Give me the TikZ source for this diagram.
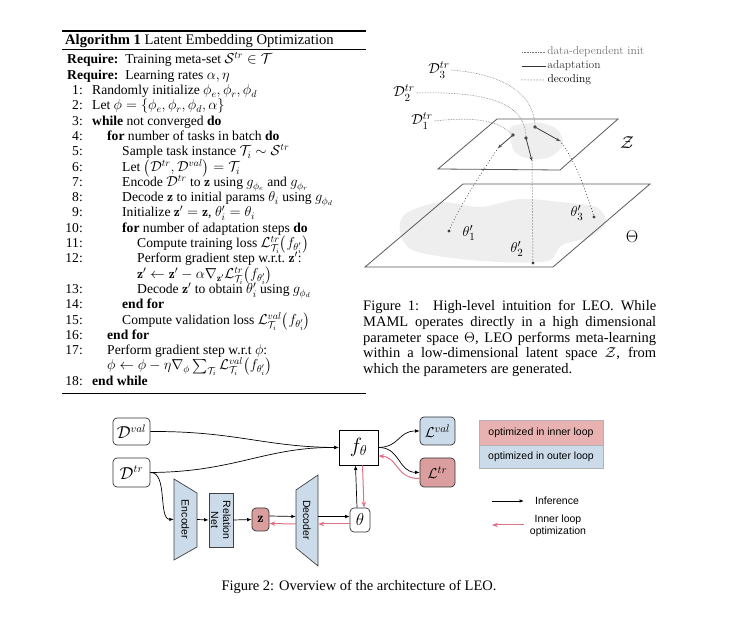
\documentclass[tikz,border=0pt]{standalone}
\usepackage{amsmath}
\usepackage{fontspec}
\usepackage{tikz}
\usetikzlibrary{arrows.meta, calc, positioning, shadows}
\newfontfamily\timesf{Liberation Serif}
\newfontfamily\arialf{Liberation Sans}
\definecolor{bluefill}{RGB}{204,219,234}
\definecolor{redfill}{RGB}{218,158,158}
\definecolor{legred}{RGB}{232,178,178}
\definecolor{redarr}{RGB}{224,112,132}
\definecolor{blob}{gray}{0.935}

\begin{document}
\begin{tikzpicture}[x=1pt, y=-1pt,
  algo/.style={font={\timesf\fontsize{13.6}{15.5}\selectfont}, inner sep=0pt, anchor=base west},
  num/.style={font={\timesf\fontsize{13.6}{15.5}\selectfont}, inner sep=0pt, anchor=base east},
  captext/.style={font={\timesf\fontsize{14.5}{15.8}\selectfont}, inner sep=0pt},
  lab/.style={font=\fontsize{15}{15}\selectfont, inner sep=1pt},
  plane/.style={draw=black!65, line width=0.8},
  init/.style={black!55, densely dotted, line width=0.6},
  adapt/.style={black!75, line width=0.8, -{Stealth[length=4pt, width=3pt]}},
  decod/.style={black!80, line width=1, line cap=round, dash pattern=on 0pt off 3pt},
  rbox/.style={draw=black!80, rounded corners=4, line width=0.7, inner sep=1pt},
  sans/.style={font={\arialf\fontsize{10.5}{12}\selectfont}, inner sep=1pt},
  inf/.style={black, line width=0.7, -{Latex[length=4.5pt, width=3.5pt]}},
  innerloop/.style={redarr, line width=1, -{Stealth[length=6pt, width=4.5pt]}},
]
\useasboundingbox (0,0) rectangle (740,628);

% algorithm
\draw[line width=1.5] (62,31) -- (366,31);
\draw[line width=0.8] (62,49.5) -- (366,49.5);
\draw[line width=0.8] (62,393) -- (366,393);
\node[algo, font={\timesf\fontsize{14.6}{15.5}\selectfont}] (title) at (65,44.5) {\textbf{Algorithm 1} Latent Embedding Optimization};
\node[algo] (req1) at (67,64) {\textbf{Require:}\hspace{7pt}Training meta-set $\mathcal{S}^{tr}\in\mathcal{T}$};
\node[algo] (req2) at (67,80) {\textbf{Require:}\hspace{7pt}Learning rates $\alpha,\eta$};
\foreach \n/\y/\lev/\txt [count=\k] in {
  1:/95/0/{Randomly initialize $\phi_e,\phi_r,\phi_d$},
  2:/110/0/{Let $\phi=\{\phi_e,\phi_r,\phi_d,\alpha\}$},
  3:/126/0/{\textbf{while} not converged \textbf{do}},
  4:/141/1/{\textbf{for} number of tasks in batch \textbf{do}},
  5:/156/2/{Sample task instance $\mathcal{T}_i\sim\mathcal{S}^{tr}$},
  6:/172/2/{Let $\left(\mathcal{D}^{tr},\mathcal{D}^{val}\right)=\mathcal{T}_i$},
  7:/187/2/{Encode $\mathcal{D}^{tr}$ to $\mathbf{z}$ using $g_{\phi_e}$ and $g_{\phi_r}$},
  8:/202/2/{Decode $\mathbf{z}$ to initial params $\theta_i$ using $g_{\phi_d}$},
  9:/217/2/{Initialize $\mathbf{z}'=\mathbf{z}$, $\theta_i'=\theta_i$},
  10:/233/2/{\textbf{for} number of adaptation steps \textbf{do}},
  11:/248/3/{Compute training loss $\mathcal{L}^{tr}_{\mathcal{T}_i}\big(f_{\theta_i'}\big)$},
  12:/263/3/{Perform gradient step w.r.t.\ $\mathbf{z}'$:},
  /279/3/{$\mathbf{z}'\leftarrow\mathbf{z}'-\alpha\nabla_{\mathbf{z}'}\mathcal{L}^{tr}_{\mathcal{T}_i}\big(f_{\theta_i'}\big)$},
  13:/294/3/{Decode $\mathbf{z}'$ to obtain $\theta_i'$ using $g_{\phi_d}$},
  14:/309/2/{\textbf{end for}},
  15:/325/2/{Compute validation loss $\mathcal{L}^{val}_{\mathcal{T}_i}\big(f_{\theta_i'}\big)$},
  16:/340/1/{\textbf{end for}},
  17:/355/1/{Perform gradient step w.r.t $\phi$:},
  /370/1/{$\phi\leftarrow\phi-\eta\nabla_\phi\sum_{\mathcal{T}_i}\mathcal{L}^{val}_{\mathcal{T}_i}\big(f_{\theta_i'}\big)$},
  18:/386/0/{\textbf{end while}}}
{
  \node[num] (n\k) at (83,\y) {\n};
  \node[algo] (t\k) at (92+15*\lev,\y) {\txt};
}

% figure 1: latent space and parameter space
\fill[blob] plot[smooth cycle] coordinates {(405,214) (440,202) (480,207) (520,199) (560,202) (596,207) (606,222) (590,237) (562,245) (548,261) (500,262) (452,258) (412,250) (400,232)};
\draw[plane] (463,184) -- (650,184) -- (553,267) -- (365,267) -- cycle;
\fill[blob] plot[smooth cycle] coordinates {(510,128) (524,124) (542,123) (558,130) (563,145) (550,157) (530,159) (514,151)};
\draw[plane] (497,119) -- (618,119) -- (560,170) -- (438,169) -- cycle;
\node[font=\fontsize{18}{18}\selectfont] (zlab) at (627,143) {$\mathcal{Z}$};
\node[font=\fontsize{18}{18}\selectfont] (thlab) at (632,237) {$\Theta$};

\node[lab] (d3) at (439,70) {$\mathcal{D}_3^{tr}$};
\node[lab] (d2) at (404,93) {$\mathcal{D}_2^{tr}$};
\node[lab] (d1) at (422,121) {$\mathcal{D}_1^{tr}$};

\coordinate (a1) at (513,135);
\coordinate (a2) at (526,138);
\coordinate (a3) at (535,127);
\coordinate (b1) at (498,148);
\coordinate (b2) at (532,161);
\coordinate (b3) at (560,141);
\coordinate (p1) at (449,231);
\coordinate (p2) at (533,263);
\coordinate (p3) at (594,217);

\draw[init] (d1.east) .. controls (480,116) and (500,122) .. (a1);
\draw[init] (d2.east) .. controls (490,91) and (526,104) .. (a2);
\draw[init] (d3.east) .. controls (505,74) and (535,95) .. (a3);
\draw[adapt] (a1) -- (b1);
\draw[adapt] (a2) -- (b2);
\draw[adapt] (a3) -- (b3);
\foreach \p in {a1,a2,a3} \fill[black!70] (\p) circle (1.8);
\draw[decod] (b1) .. controls (480,175) and (460,205) .. (p1);
\draw[decod] (b2) -- (p2);
\draw[decod] (b3) .. controls (574,158) and (586,190) .. (p3);
\foreach \p in {p1,p2,p3} \fill[black!75] (\p) circle (1.6);
\node[lab] (th1) at (469,233) {$\theta_1'$};
\node[lab] (th2) at (517,249) {$\theta_2'$};
\node[lab] (th3) at (577,213) {$\theta_3'$};

\draw[init] (522,52) -- (546,52) node[right, inner sep=1pt, font=\fontsize{11.5}{12}\selectfont] (leg1) {data-dependent init};
\draw[black!80, line width=0.8] (522,66) -- (546,66) node[right, inner sep=1pt, font=\fontsize{11.5}{12}\selectfont] (leg2) {adaptation};
\draw[decod] (522,80) -- (546,80) node[right, inner sep=1pt, black, font=\fontsize{11.5}{12}\selectfont] (leg3) {decoding};

\node[captext, text width=293pt, align=justify, anchor=north west] (cap1) at (363,300)
  {Figure 1:\ \ High-level intuition for LEO. While\linebreak MAML operates directly in a high dimensional\linebreak parameter space $\Theta$, LEO performs meta-learning\linebreak within a low-dimensional latent space $\mathcal{Z}$, from\linebreak which the parameters are generated.};

% figure 2: architecture
\node[rbox, minimum width=37, minimum height=27, font=\fontsize{16}{16}\selectfont] (dval) at (131.5,431.5) {$\mathcal{D}^{val}$};
\node[rbox, minimum width=37, minimum height=29, font=\fontsize{16}{16}\selectfont] (dtr) at (131.5,472.5) {$\mathcal{D}^{tr}$};
\node[draw, line width=0.8, minimum width=39, minimum height=35, font=\fontsize{20}{20}\selectfont] (fth) at (358.5,447.5) {$f_\theta$};
\node[rbox, fill=bluefill, minimum width=35, minimum height=28, font=\fontsize{15}{15}\selectfont] (lval) at (437.5,431) {$\mathcal{L}^{val}$};
\node[rbox, fill=redfill, minimum width=35, minimum height=29, font=\fontsize{15}{15}\selectfont] (ltr) at (437.5,472.5) {$\mathcal{L}^{tr}$};
\node[rbox, minimum width=20, minimum height=24, font=\fontsize{19}{19}\selectfont] (th) at (360,520) {$\theta$};
\node[rbox, fill=redfill, minimum width=17, minimum height=23, font=\fontsize{14}{14}\selectfont] (z) at (260.5,519.5) {$\mathbf{z}$};

\filldraw[fill=bluefill, draw=black!75, line width=0.7] (174,479) -- (197,493) -- (197,547) -- (174,560) -- cycle;
\node[sans, rotate=-90, minimum width=81, minimum height=23] (enc) at (185.5,519.5) {Encoder};
\node[sans, draw=black!75, line width=0.7, fill=bluefill, rotate=-90, align=center, minimum width=54, minimum height=24] (rel) at (221,520) {Relation\\Net};
\filldraw[fill=bluefill, draw=black!75, line width=0.7] (296,490) -- (318,475) -- (318,566) -- (296,548) -- cycle;
\node[sans, rotate=-90, minimum width=91, minimum height=22] (dec) at (307,520) {Decoder};

\draw[inf] (dval.east) .. controls (235,431) and (265,447) .. (fth.west);
\draw[inf] (dtr.east) .. controls (235,472) and (265,447) .. (fth.west);
\draw[inf] (dtr.east) .. controls (168,472) and (158,519) .. (enc.south);
\draw[inf] (enc.north) -- (rel.south);
\draw[inf] (rel.north) -- (z.west);
\draw[inf] ([yshift=3.5pt]z.east) -- ([yshift=3.5pt]dec.south);
\draw[innerloop] ([yshift=-4pt]dec.south) -- ([yshift=-4pt]z.east);
\draw[inf] ([yshift=3.5pt]dec.north) -- ([yshift=3.5pt]th.west);
\draw[innerloop] ([yshift=-4pt]th.west) -- ([yshift=-4pt]dec.north);
\draw[inf] ([xshift=-3pt]th.north) -- ([xshift=-3pt]fth.south);
\draw[innerloop] ([xshift=4pt]fth.south) -- ([xshift=4pt]th.north);
\draw[inf] (fth.east) .. controls (400,447) and (398,431) .. (lval.west);
\draw[inf] (fth.east) .. controls (400,447) and (398,472) .. (ltr.west);
\draw[innerloop] ([yshift=-6pt]ltr.west) .. controls (396,479) and (398,457) .. ([yshift=-8.5pt]fth.east);

\node[sans, draw=black!30, fill=legred, minimum width=124, minimum height=25,
  drop shadow={shadow xshift=1.2pt, shadow yshift=-1.2pt, opacity=0.25}] (legin) at (541,432.5) {optimized in inner loop};
\node[sans, draw=black!30, fill=bluefill, minimum width=124, minimum height=23,
  drop shadow={shadow xshift=1.2pt, shadow yshift=-1.2pt, opacity=0.25}] (legout) at (541,456.5) {optimized in outer loop};
\coordinate (i1) at (492,501);
\coordinate (i2) at (524,501);
\draw[inf] (i1) -- (i2);
\node[sans] (inflab) at (557,501) {Inference};
\coordinate (o1) at (524,525);
\coordinate (o2) at (492,525);
\draw[innerloop] (o1) -- (o2);
\node[sans, align=center] (optlab) at (558,526) {Inner loop\\optimization};

\node[captext] (cap2) at (359,587) {Figure 2: Overview of the architecture of LEO.};
\end{tikzpicture}
\end{document}
